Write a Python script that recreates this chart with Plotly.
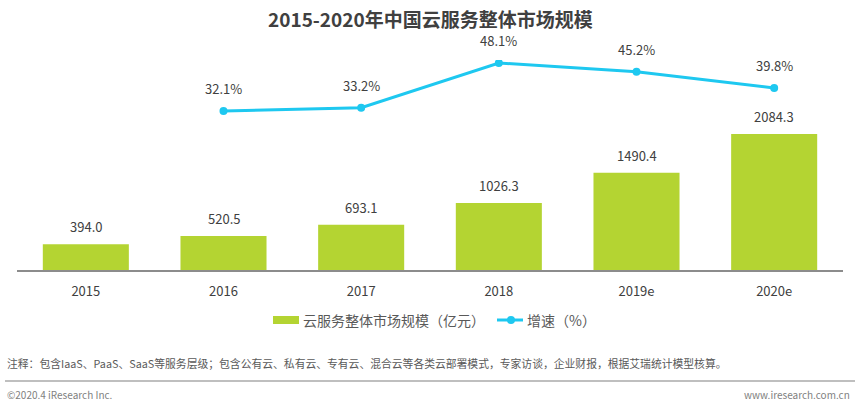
import plotly.graph_objects as go

years = ["2015", "2016", "2017", "2018", "2019e", "2020e"]
market = [394.0, 520.5, 693.1, 1026.3, 1490.4, 2084.3]
growth_years = ["2016", "2017", "2018", "2019e", "2020e"]
growth = [32.1, 33.2, 48.1, 45.2, 39.8]
bar_name = "云服务整体市场规模（亿元）"
line_name = "增速（%）"

FONT = "Noto Sans CJK SC, Microsoft YaHei, sans-serif"
BAR_C = "#b4d432"
LINE_C = "#1ec8f0"
TXT = "#404040"

W, H = 858, 405
ML, MR, MT, MB = 17, 15, 60, 135
PW, PH = W - ML - MR, H - MT - MB


def px_x(p):
    return (p - ML) / PW


def px_y(p):
    return (H - MB - p) / PH


fig = go.Figure()
fig.add_trace(go.Bar(
    x=years, y=market, name=bar_name,
    marker=dict(color=BAR_C, line=dict(width=0)),
    yaxis="y", showlegend=False,
))
fig.add_trace(go.Scatter(
    x=growth_years, y=growth, name=line_name,
    mode="lines+markers", line=dict(color=LINE_C, width=3),
    marker=dict(color=LINE_C, size=8), yaxis="y2", showlegend=False,
))

annotations = []
for x, v in zip(years, market):
    annotations.append(dict(x=years.index(x), y=v, xref="x", yref="y", text=f"{v:.1f}",
                            showarrow=False, yanchor="bottom", yshift=6,
                            font=dict(size=13, color=TXT, family=FONT)))
for x, v in zip(growth_years, growth):
    annotations.append(dict(x=years.index(x), y=v, xref="x", yref="y2", text=f"{v:.1f}%",
                            showarrow=False, yanchor="bottom", yshift=11,
                            font=dict(size=13, color=TXT, family=FONT)))

annotations += [
    dict(x=0.5, y=px_y(18), xref="paper", yref="paper", yanchor="middle", xanchor="center",
         text="<b>2015-2020年中国云服务整体市场规模</b>", showarrow=False,
         font=dict(size=19, color=TXT, family=FONT)),
    # custom legend texts
    dict(x=px_x(301), y=px_y(320), xref="paper", yref="paper", text=bar_name,
         showarrow=False, xanchor="left", yanchor="middle",
         font=dict(size=14, color="#595959", family=FONT)),
    dict(x=px_x(525), y=px_y(320), xref="paper", yref="paper", text=line_name,
         showarrow=False, xanchor="left", yanchor="middle",
         font=dict(size=14, color="#595959", family=FONT)),
    dict(x=px_x(5), y=px_y(363), xref="paper", yref="paper",
         text="注释：包含IaaS、PaaS、SaaS等服务层级；包含公有云、私有云、专有云、混合云等各类云部署模式，专家访谈，企业财报，根据艾瑞统计模型核算。",
         showarrow=False, xanchor="left", yanchor="middle",
         font=dict(size=10.8, color="#595959", family=FONT)),
    dict(x=px_x(5), y=px_y(394), xref="paper", yref="paper", text="©2020.4 iResearch Inc.",
         showarrow=False, xanchor="left", yanchor="middle",
         font=dict(size=10, color="#7f7f7f", family=FONT)),
    dict(x=px_x(852), y=px_y(394), xref="paper", yref="paper", text="www.iresearch.com.cn",
         showarrow=False, xanchor="right", yanchor="middle",
         font=dict(size=10, color="#7f7f7f", family=FONT)),
]

shapes = [
    dict(type="line", xref="paper", yref="paper",
         x0=px_x(5), x1=px_x(855), y0=px_y(381), y1=px_y(381),
         line=dict(color="#bfbfbf", width=2)),
    # legend symbols
    dict(type="rect", xref="paper", yref="paper",
         x0=px_x(273), x1=px_x(299), y0=px_y(316), y1=px_y(324),
         fillcolor=BAR_C, line=dict(width=0)),
    dict(type="line", xref="paper", yref="paper",
         x0=px_x(497), x1=px_x(523), y0=px_y(320), y1=px_y(320),
         line=dict(color=LINE_C, width=3)),
    dict(type="circle", xref="paper", yref="paper",
         x0=px_x(507), x1=px_x(515), y0=px_y(316), y1=px_y(324),
         fillcolor=LINE_C, line=dict(width=0)),
]

fig.update_layout(
    width=W, height=H,
    margin=dict(l=ML, r=MR, t=MT, b=MB, autoexpand=False),
    paper_bgcolor="white", plot_bgcolor="white",
    font=dict(family=FONT, color=TXT, size=13),
    bargap=0.375,
    showlegend=False,
    xaxis=dict(type="category", categoryorder="array", categoryarray=years,
               range=[-0.5, len(years) - 0.5], showline=True, linecolor="#8c8c8c",
               linewidth=2, ticks="", showgrid=False, zeroline=False,
               tickfont=dict(size=13, color=TXT), ticklabelstandoff=8, automargin=False),
    yaxis=dict(range=[0, 3218], visible=False, showgrid=False, zeroline=False),
    yaxis2=dict(range=[-20.9, 49.1], overlaying="y", visible=False, showgrid=False,
                zeroline=False),
    annotations=annotations,
    shapes=shapes,
)
fig.write_html("out.html", config={"displayModeBar": False},
               post_script="document.body.style.margin='0';document.body.style.overflow='hidden';")
